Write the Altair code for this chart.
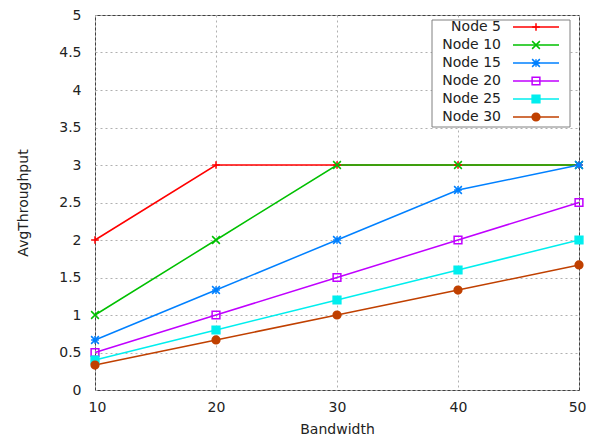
import altair as alt
import pandas as pd

bandwidth = [10, 20, 30, 40, 50]
series_names = ["Node 5", "Node 10", "Node 15", "Node 20", "Node 25", "Node 30"]
node5 = [2, 3, 3, 3, 3]
node10 = [1, 2, 3, 3, 3]
node15 = [0.667, 1.333, 2, 2.667, 3]
node20 = [0.5, 1, 1.5, 2, 2.5]
node25 = [0.4, 0.8, 1.2, 1.6, 2]
node30 = [0.333, 0.667, 1, 1.333, 1.667]

colors = ["#ff0000", "#00c000", "#0080ff", "#c000ff", "#00eeee", "#c04000"]
fills = ["transparent", "transparent", "transparent", "transparent", "#00eeee", "#c04000"]
shapes = [
    "M-1,0H1M0,-1V1",
    "M-1,-1L1,1M-1,1L1,-1",
    "M-1,0H1M0,-1V1M-1,-1L1,1M-1,1L1,-1",
    "square",
    "square",
    "circle",
]

rows = []
for name, vals in zip(series_names, [node5, node10, node15, node20, node25, node30]):
    for b, v in zip(bandwidth, vals):
        rows.append({"Bandwidth": b, "AvgThroughput": v, "series": name})
df = pd.DataFrame(rows)
legend_df = pd.DataFrame({"series": series_names, "idx": list(range(len(series_names)))})
box_df = pd.DataFrame({"k": [0]})

FONT = "DejaVu Sans"

x = alt.X("Bandwidth:Q", title="Bandwidth",
          scale=alt.Scale(domain=[10, 50], nice=False),
          axis=alt.Axis(values=[10, 20, 30, 40, 50], format="d",
                        labelFlush=True, labelFlushOffset=7))
y = alt.Y("AvgThroughput:Q", title="AvgThroughput",
          scale=alt.Scale(domain=[0, 5], nice=False),
          axis=alt.Axis(values=[0, 0.5, 1, 1.5, 2, 2.5, 3, 3.5, 4, 4.5, 5], format="~g",
                        labelFlush=False))

color_enc = alt.Color("series:N", scale=alt.Scale(domain=series_names, range=colors), legend=None)
fill_enc = alt.Fill("series:N", scale=alt.Scale(domain=series_names, range=fills), legend=None)
shape_enc = alt.Shape("series:N", scale=alt.Scale(domain=series_names, range=shapes), legend=None)

lines = alt.Chart(df).mark_line(strokeWidth=1.5).encode(x=x, y=y, color=color_enc)
points = alt.Chart(df).mark_point(filled=False, size=60, strokeWidth=1.5, opacity=1).encode(
    x=x, y=y, color=color_enc, fill=fill_enc, shape=shape_enc,
)
data_layer = alt.layer(lines, points)

# key (legend) drawn gnuplot-style: label, then line sample with marker
key_y = alt.Y("idx:Q", scale=alt.Scale(domain=[0, 5], range=[12, 102], nice=False, zero=False),
              axis=None)

key_box = alt.Chart(box_df).mark_rect(fill="white", stroke="#808080", strokeWidth=1).encode(
    x=alt.value(337), x2=alt.value(475), y=alt.value(5), y2=alt.value(112),
)
key_text = alt.Chart(legend_df).mark_text(
    align="right", baseline="middle", font=FONT, fontSize=14, color="#222"
).encode(x=alt.value(406), y=key_y, text="series:N")
key_lines = alt.Chart(legend_df).mark_rule(strokeWidth=1.5).encode(
    x=alt.value(418), x2=alt.value(464), y=key_y, color=color_enc,
)
key_marks = alt.Chart(legend_df).mark_point(filled=False, size=60, strokeWidth=1.5, opacity=1).encode(
    x=alt.value(441), y=key_y, color=color_enc, fill=fill_enc, shape=shape_enc,
)
key_layer = alt.layer(key_box, key_lines, key_marks, key_text)

chart = (
    alt.layer(data_layer, key_layer)
    .resolve_scale(y="independent")
    .properties(width=484, height=375, autosize="none",
                padding={"left": 87, "top": 7, "right": 7, "bottom": 44})
    .configure_view(stroke="#404040", strokeWidth=1)
    .configure_axis(
        grid=True, gridColor="#b0b0b0", gridDash=[2, 3], gridWidth=1,
        domain=False, ticks=False,
        labelFont=FONT, labelFontSize=14, labelColor="#222",
        titleFont=FONT, titleFontSize=14, titleFontWeight="normal", titleColor="#222",
    )
    .configure_axisX(labelPadding=10, titlePadding=8)
    .configure_axisY(labelPadding=14, titlePadding=28)
)

chart.save("out.html", embed_options={"renderer": "svg", "actions": False})
